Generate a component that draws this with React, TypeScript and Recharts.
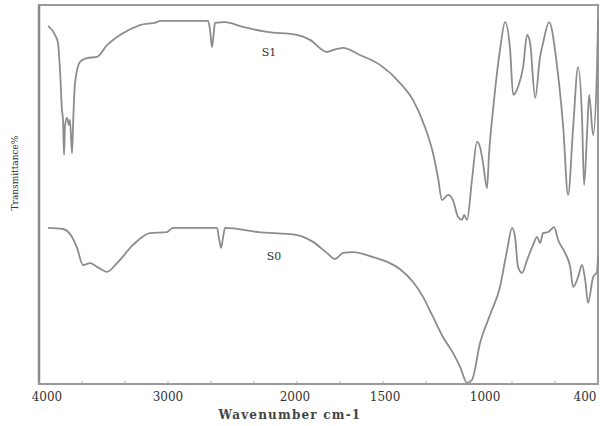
import React from 'react';
import { LineChart, Line, XAxis, YAxis, ReferenceArea, ReferenceDot, Label } from 'recharts';

// Wavenumber (cm-1) and transmittance (%)
const s1Wavenumber = [3930, 3876, 3853, 3837, 3822, 3814, 3806, 3798, 3783, 3767, 3760, 3744, 3736, 3721, 3682, 3628, 3550, 3473, 3372, 3217, 3085, 3062, 2690, 2674, 2659, 2643, 2636, 2558, 2419, 2233, 2000, 1931, 1841, 1809, 1755, 1665, 1559, 1452, 1383, 1320, 1277, 1251, 1229, 1197, 1171, 1144, 1123, 1112, 1096, 1070, 1043, 1027, 1011, 990, 979, 958, 921, 894, 867, 851, 825, 798, 777, 761, 734, 708, 692, 660, 617, 585, 559, 532, 506, 485, 474, 458, 447, 426, 405, 400];
const s1Transmittance = [94.5, 92.1, 90.0, 82.8, 72.3, 69.7, 60.4, 68.3, 70.2, 68.3, 69.7, 60.9, 68.3, 79.4, 85.0, 86.0, 86.3, 89.4, 92.1, 94.7, 95.5, 95.8, 95.8, 93.4, 88.9, 93.4, 95.3, 95.5, 94.2, 92.9, 92.1, 90.8, 87.6, 88.1, 88.7, 86.8, 84.2, 79.4, 74.9, 67.8, 60.9, 54.6, 48.5, 49.9, 48.5, 44.1, 43.3, 44.6, 43.3, 53.8, 63.9, 62.5, 58.3, 51.7, 60.9, 72.3, 88.1, 95.5, 88.1, 76.3, 78.4, 83.6, 92.1, 90.0, 75.5, 86.3, 90.0, 95.5, 83.6, 67.8, 49.9, 67.8, 83.6, 70.4, 52.5, 66.2, 76.3, 65.7, 83.6, 96.0];

const s0Wavenumber = [3930, 3814, 3744, 3705, 3659, 3605, 3550, 3473, 3395, 3271, 3140, 3008, 2961, 2620, 2605, 2589, 2574, 2558, 2302, 2000, 1915, 1841, 1798, 1755, 1702, 1596, 1506, 1452, 1383, 1330, 1277, 1224, 1171, 1133, 1096, 1070, 1027, 974, 921, 883, 857, 841, 825, 804, 777, 745, 724, 708, 692, 665, 633, 612, 575, 548, 532, 506, 485, 468, 453, 426, 405, 400];
const s0Transmittance = [41.2, 40.9, 38.8, 35.9, 31.4, 31.9, 30.9, 29.6, 31.9, 36.7, 39.8, 40.1, 41.2, 41.2, 38.5, 35.9, 38.5, 41.2, 40.1, 39.3, 37.5, 34.6, 33.0, 34.6, 34.8, 33.5, 31.9, 30.3, 26.9, 23.0, 17.7, 12.4, 8.2, 4.5, 0.3, 1.1, 10.8, 18.2, 25.6, 35.4, 41.2, 38.8, 30.9, 29.3, 32.7, 36.7, 38.8, 37.2, 39.8, 40.1, 41.4, 38.0, 34.6, 30.9, 25.6, 28.2, 31.4, 27.4, 21.4, 28.2, 29.6, 34.0];

const tickLabels = [4000, 3000, 2000, 1500, 1000, 400];
const seriesNames = ['S1', 'S0'];
const seriesLabelAt = [
  { w: 2217, t: 87.6 },
  { w: 2178, t: 33.8 },
];

// Instrument axis: 4000-2000 spans 6 divisions, 2000-400 spans 7 divisions
const toPos = (w: number) => (w >= 2000 ? ((4000 - w) / 2000) * 6 : 6 + ((2000 - w) / 1600) * 7);

const s1Data = s1Wavenumber.map((w, i) => ({ pos: toPos(w), t: s1Transmittance[i] }));
const s0Data = s0Wavenumber.map((w, i) => ({ pos: toPos(w), t: s0Transmittance[i] }));

const minorTicks = Array.from({ length: 14 }, (_, i) => i);
const labelPositions = tickLabels.map(toPos);
const allTicks = Array.from(new Set([...minorTicks, ...labelPositions])).sort((a, b) => a - b);

const FONT = '"DejaVu Serif", serif';
const labelShift: Record<number, number> = { 4000: 8, 2000: -2, 1500: -6, 400: -13 };

const AxisTick = (props: any) => {
  const { x, y, payload } = props;
  const v = payload.value as number;
  const idx = labelPositions.findIndex((p) => Math.abs(p - v) < 1e-6);
  const isMinor = Math.abs(v - Math.round(v)) < 1e-6;
  return (
    <g>
      {isMinor && <line x1={x} x2={x} y1={y} y2={y - 3} stroke="#aaa" strokeWidth={1} />}
      {idx >= 0 && (
        <text
          x={x + (labelShift[tickLabels[idx]] || 0)}
          y={y + 17}
          textAnchor="middle"
          fontFamily={FONT}
          fontSize={12}
          fill="#333"
        >
          {tickLabels[idx]}
        </text>
      )}
    </g>
  );
};

export default function App() {
  return (
    <div style={{ position: 'absolute', left: 0, top: 0, width: 600, height: 426, background: '#fff' }}>
      <LineChart width={600} height={426} margin={{ top: 5, right: 2, left: 0, bottom: 12 }}>
        <XAxis
          type="number"
          dataKey="pos"
          domain={[0, 13]}
          ticks={allTicks}
          interval={0}
          tick={<AxisTick />}
          tickLine={false}
          tickSize={0}
          tickMargin={0}
          height={30}
          axisLine={{ stroke: '#9a9a9a', strokeWidth: 2 }}
        >
          <Label
            content={() => (
              <text x={290} y={419} textAnchor="middle" fontFamily={FONT} fontSize={12} fontWeight="bold" fill="#444" letterSpacing={1.2}>
                Wavenumber cm-1
              </text>
            )}
          />
        </XAxis>
        <YAxis
          type="number"
          domain={[0, 100]}
          width={39}
          tick={false}
          tickLine={false}
          axisLine={{ stroke: '#8a8a8a', strokeWidth: 2.5 }}
        >
          <Label
            content={() => (
              <text x={18} y={173} transform="rotate(-90 18 173)" textAnchor="middle" fontFamily={FONT} fontSize={9} fill="#333">
                Transmittance%
              </text>
            )}
          />
        </YAxis>
        <ReferenceArea x1={0} x2={13} y1={0} y2={100} fill="none" stroke="#9a9a9a" strokeWidth={2} ifOverflow="visible" />
        <Line data={s1Data} dataKey="t" type="monotone" stroke="#8c8c8c" strokeWidth={1.8} dot={false} isAnimationActive={false} />
        <Line data={s0Data} dataKey="t" type="monotone" stroke="#8c8c8c" strokeWidth={1.8} dot={false} isAnimationActive={false} />
        {seriesNames.map((name, i) => (
          <ReferenceDot
            key={name}
            x={toPos(seriesLabelAt[i].w)}
            y={seriesLabelAt[i].t}
            r={0}
            fill="none"
            stroke="none"
            ifOverflow="visible"
            label={{ value: name, position: 'center', fontFamily: FONT, fontSize: 11, fill: '#333' }}
          />
        ))}
      </LineChart>
    </div>
  );
}
